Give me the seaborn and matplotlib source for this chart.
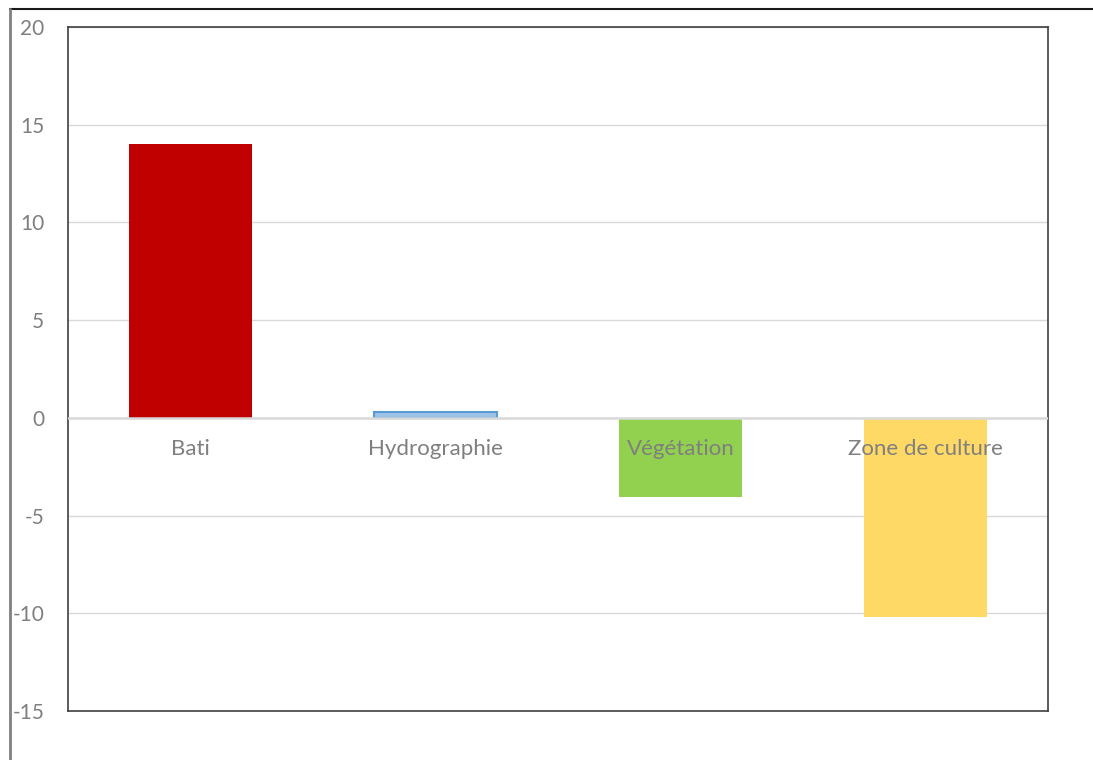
import matplotlib
matplotlib.use("Agg")
import matplotlib.pyplot as plt
import matplotlib.transforms as mtransforms
from matplotlib.lines import Line2D
import seaborn as sns
import pandas as pd

categories = ["Bati", "Hydrographie", "Végétation", "Zone de culture"]
values = [14.0, 0.3, -4.05, -10.2]
colors = ["#C00000", "#9DC3E6", "#92D050", "#FFD966"]
yticks = [20, 15, 10, 5, 0, -5, -10, -15]

sns.set_style("white")
plt.rcParams["font.family"] = ["Lato", "DejaVu Sans"]

fig = plt.figure(figsize=(10.93, 7.6), dpi=100)
ax = fig.add_axes([68/1093, 1-711/760, (1048-68)/1093, (711-27)/760])

df = pd.DataFrame({"cat": categories, "val": values})
sns.barplot(data=df, x="cat", y="val", hue="cat", palette=colors, legend=False,
            width=0.5, ax=ax, saturation=1, zorder=3)
for p, c in zip(ax.patches, categories):
    p.set_linewidth(0)
    if c == "Hydrographie":
        p.set_edgecolor("#5B9BD5")
        p.set_linewidth(1.5)

ax.set_ylim(-15, 20)
ax.set_xlim(-0.5, 3.5)
ax.set_yticks(yticks)
ax.set_yticklabels([str(t) for t in yticks])
ax.tick_params(axis="y", length=0, pad=17, labelsize=15, labelcolor="#7F7F7F")
ax.set_xticks([])
ax.set_xlabel("")
ax.set_ylabel("")
for t in yticks:
    ax.axhline(t, color="#D9D9D9", lw=1, zorder=1)
ax.axhline(0, color="#D9D9D9", lw=1.8, zorder=4)

off = mtransforms.offset_copy(ax.transData, fig=fig, x=0, y=-31, units="dots")
for i, c in enumerate(categories):
    ax.text(i, 0, c, transform=off, ha="center", va="center", fontsize=16,
            color="#7F7F7F", zorder=5)

for s in ax.spines.values():
    s.set_color("#404040")
    s.set_linewidth(1.2)
    s.set_visible(True)

fig.add_artist(Line2D([10/1093, 1.0], [1-9/760, 1-9/760], color="#1a1a1a", lw=1.5,
                      transform=fig.transFigure))
fig.add_artist(Line2D([10/1093, 10/1093], [1-9/760, 0], color="#808080", lw=2,
                      transform=fig.transFigure))

fig.savefig("out.png", dpi=100)
